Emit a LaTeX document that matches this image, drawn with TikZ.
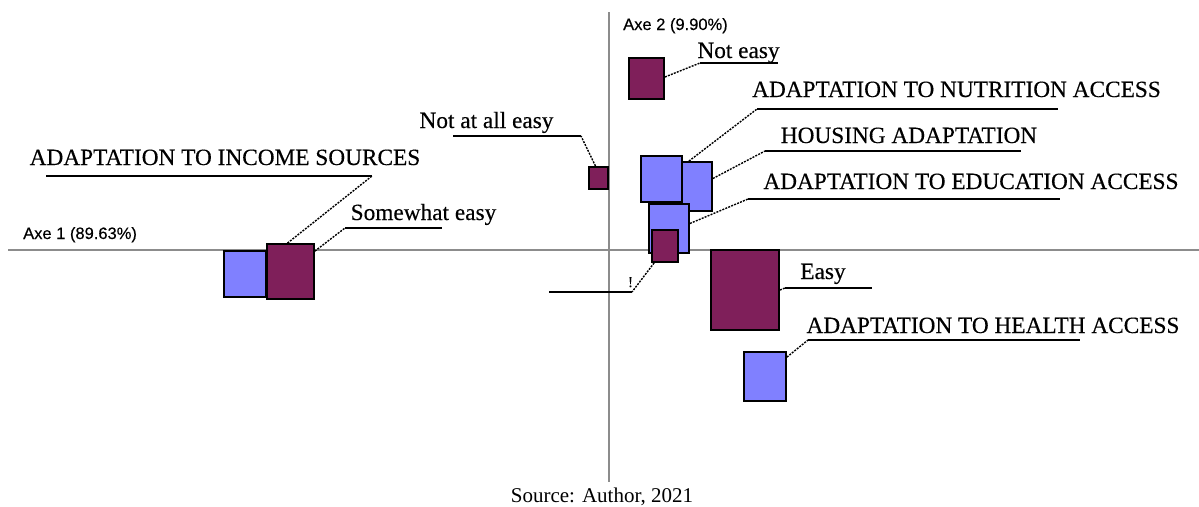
\documentclass[tikz,border=0pt]{standalone}
\usepackage{fontspec}
\setmainfont{Liberation Serif}
\newfontfamily\lblfont[FakeBold=0.35]{Liberation Serif}
\newfontfamily\axisfont[FakeBold=0.3]{Liberation Sans}
\usetikzlibrary{calc}
\definecolor{catpurple}{HTML}{7F1F5A}
\definecolor{varblue}{HTML}{8080FF}
\definecolor{axisgray}{HTML}{8C8C8C}
\tikzset{
  mbox/.style={draw=black, line width=1.8pt, inner sep=0pt, minimum width=#1},
  purplebox/.style={mbox=0pt, fill=catpurple},
  bluebox/.style={mbox=0pt, fill=varblue},
  lbl/.style={anchor=base, inner sep=0pt, font=\lblfont\fontsize{23.3}{28}\selectfont},
  axislbl/.style={anchor=base west, inner sep=0pt, font=\axisfont\fontsize{16.5}{20}\selectfont},
  leader/.style={draw=black, line width=1.4pt, dash pattern=on 2pt off 1.2pt},
  uline/.style={draw=black, line width=1.8pt},
  axis/.style={draw=axisgray, line width=1.6pt}
}
\begin{document}
\begin{tikzpicture}[x=1pt, y=-1pt]
  \useasboundingbox (0,0) rectangle (1199,506);

  % principal axes
  \coordinate (xl) at (8,250);
  \coordinate (xr) at (1199,250);
  \coordinate (yt) at (609,12);
  \coordinate (yb) at (609,482);
  \draw[axis] (xl) -- (xr);
  \draw[axis] (yt) -- (yb);
  \node[axislbl] (axe1) at (23,239) {Axe 1 (89.63\%)};
  \node[axislbl] (axe2) at (623,30) {Axe 2 (9.90\%)};

  % category and variable points
  \node[purplebox, minimum width=35pt, minimum height=41pt] (neasy) at (646.5,78.5) {};
  \node[purplebox, minimum width=19pt, minimum height=22pt] (nall) at (598.5,178) {};
  \node[bluebox, minimum width=41pt, minimum height=46pt] (bnut) at (661.5,179) {};
  \node[bluebox, minimum width=30pt, minimum height=49pt] (bhous) at (697,186.5) {};
  \node[bluebox, minimum width=40pt, minimum height=49pt] (bedu) at (669,228.5) {};
  \node[purplebox, minimum width=26pt, minimum height=32pt] (pexcl) at (665,246) {};
  \node[purplebox, minimum width=68pt, minimum height=80pt] (peasy) at (745,290) {};
  \node[bluebox, minimum width=42pt, minimum height=49pt] (bhealth) at (765,376.5) {};
  \node[bluebox, minimum width=42pt, minimum height=46pt] (binc) at (245,274) {};
  \node[purplebox, minimum width=47pt, minimum height=55pt] (psome) at (290.5,271.5) {};

  % labels
  \node[lbl] (tneasy) at (738.5,58) {Not easy};
  \node[lbl] (tnut) at (956.5,97) {ADAPTATION TO NUTRITION ACCESS};
  \node[lbl] (thous) at (909,143) {HOUSING ADAPTATION};
  \node[lbl] (tedu) at (971,189) {ADAPTATION TO EDUCATION ACCESS};
  \node[lbl] (tinc) at (225,165) {ADAPTATION TO INCOME SOURCES};
  \node[lbl] (tsome) at (423.5,220) {Somewhat easy};
  \node[lbl] (teasy) at (823,279) {Easy};
  \node[lbl] (thealth) at (993,333) {ADAPTATION TO HEALTH ACCESS};
  \node[lbl] (tnall) at (486.5,128) {Not at all easy};
  \node[lbl, font=\lblfont\fontsize{15}{18}\selectfont] (texcl) at (630.5,287) {!};

  % underline ends of the labels
  \coordinate (uneasyA) at (700,63);   \coordinate (uneasyB) at (778,63);
  \coordinate (unutA) at (757,109);    \coordinate (unutB) at (1058,109);
  \coordinate (uhousA) at (765,151);   \coordinate (uhousB) at (1021,151);
  \coordinate (ueduA) at (748,199);    \coordinate (ueduB) at (1060,199);
  \coordinate (uexclA) at (632,292);   \coordinate (uexclB) at (549,292);
  \coordinate (ueasyA) at (785,288);   \coordinate (ueasyB) at (872,288);
  \coordinate (uhealthA) at (808,340); \coordinate (uhealthB) at (1080,340);
  \coordinate (uincA) at (372,176);    \coordinate (uincB) at (46,176);
  \coordinate (usomeA) at (345,228);   \coordinate (usomeB) at (442,228);
  \coordinate (unallA) at (581,136);   \coordinate (unallB) at (453,136);

  % leaders from the points to their labels
  \draw[leader] ($(neasy.east)+(0,-1.5)$) -- (uneasyA);
  \draw[leader] ($(bnut.north east)+(6,6)$) -- (unutA);
  \draw[leader] ($(bhous.east)+(0,-8)$) -- (uhousA);
  \draw[leader] ($(bedu.east)+(0,-5)$) -- (ueduA);
  \draw[leader] ($(pexcl.south west)+(3,0)$) -- (uexclA);
  \draw[leader] (peasy.east) -- (ueasyA);
  \draw[leader] ($(bhealth.north east)+(0,6)$) -- (uhealthA);
  \draw[leader] ($(psome.north)+(-3,0)$) -- (uincA);
  \draw[leader] ($(psome.north east)+(0,8)$) -- (usomeA);
  \draw[leader] ($(nall.north)+(-3,0)$) -- (unallA);

  % label underlines
  \draw[uline] (uneasyA) -- (uneasyB);
  \draw[uline] (unutA) -- (unutB);
  \draw[uline] (uhousA) -- (uhousB);
  \draw[uline] (ueduA) -- (ueduB);
  \draw[uline] (uexclA) -- (uexclB);
  \draw[uline] (ueasyA) -- (ueasyB);
  \draw[uline] (uhealthA) -- (uhealthB);
  \draw[uline] (uincA) -- (uincB);
  \draw[uline] (usomeA) -- (usomeB);
  \draw[uline] (unallA) -- (unallB);

  % caption
  \node[anchor=base, inner sep=0pt, font=\fontsize{21}{25}\selectfont] (cap) at (602,502) {Source: Author, 2021};
\end{tikzpicture}
\end{document}
